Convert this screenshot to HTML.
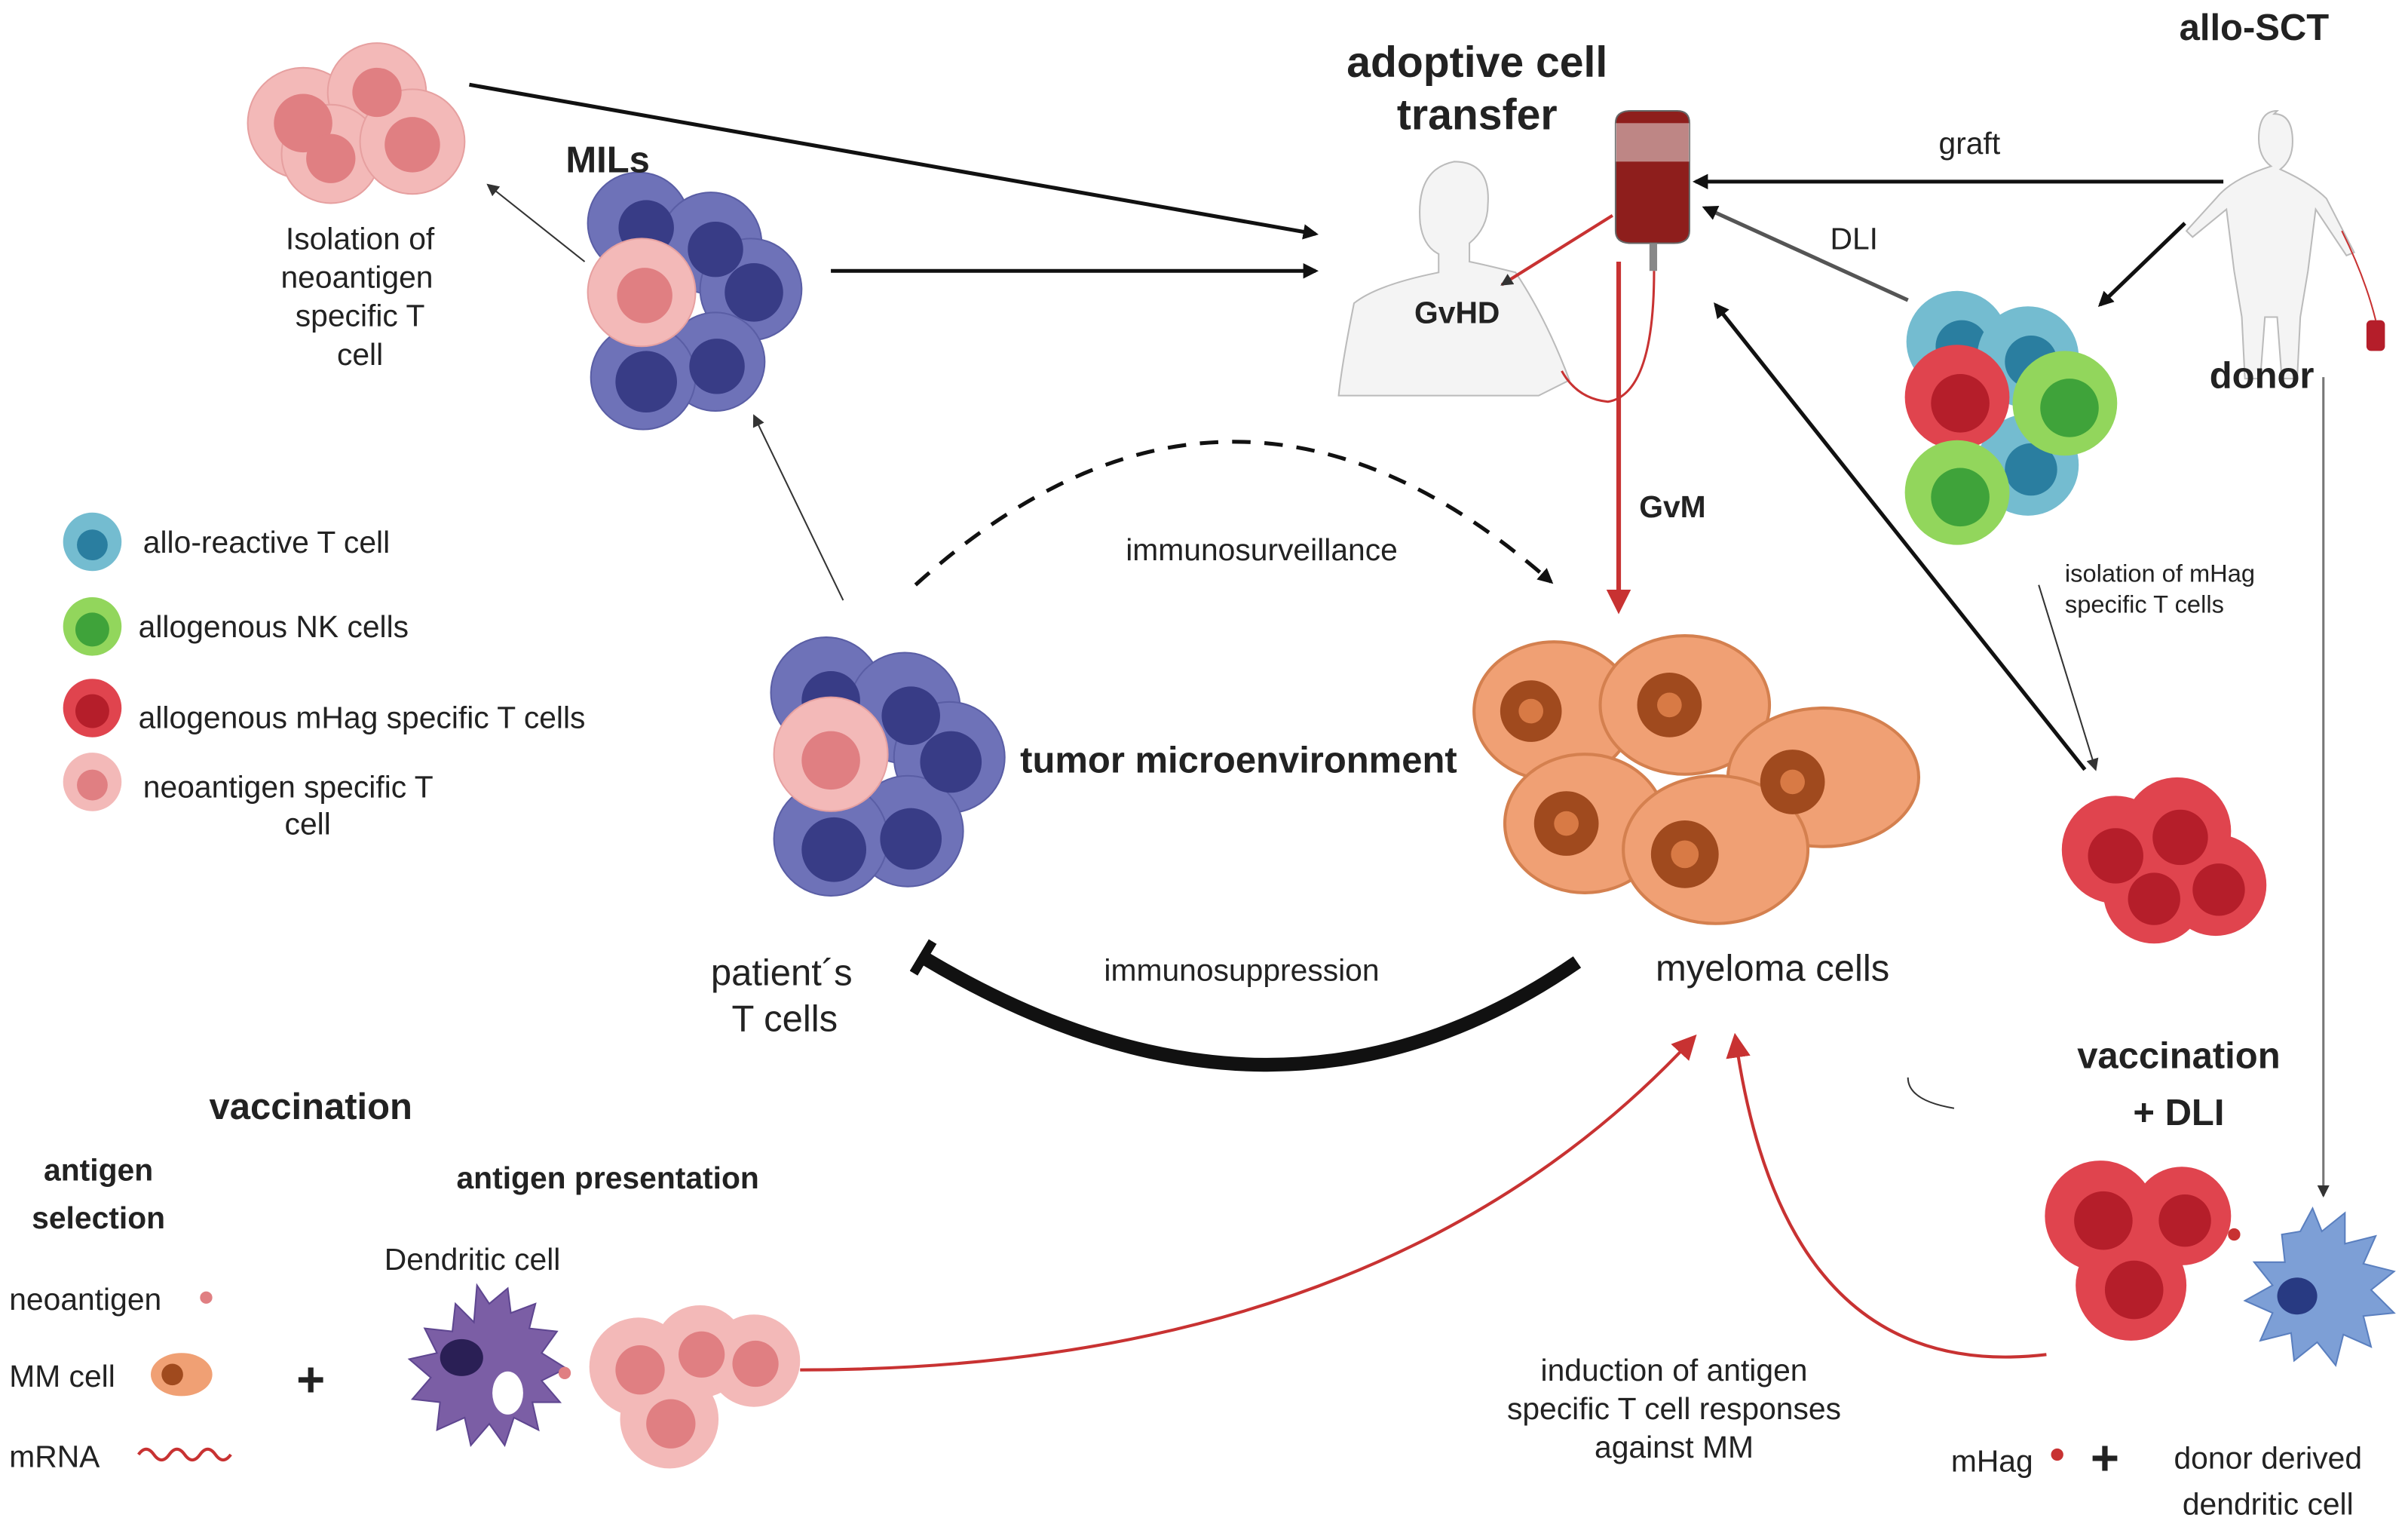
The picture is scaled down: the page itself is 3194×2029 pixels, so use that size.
<!DOCTYPE html>
<html><head><meta charset="utf-8"><style>html,body{margin:0;padding:0;background:#fff}svg{display:block}text{font-family:"Liberation Sans",sans-serif;fill:#222}</style></head>
<body>
<svg width="3194" height="2029" viewBox="0 0 1565 994" preserveAspectRatio="none" xmlns="http://www.w3.org/2000/svg">
<defs>
<marker id="ab" markerWidth="10" markerHeight="10" refX="8" refY="5" orient="auto" markerUnits="userSpaceOnUse"><path d="M0,0 L10,5 L0,10 z" fill="#111"/></marker>
<marker id="ar" markerWidth="16" markerHeight="16" refX="12" refY="8" orient="auto" markerUnits="userSpaceOnUse"><path d="M0,0 L16,8 L0,16 z" fill="#c83232"/></marker>
<marker id="as" markerWidth="8" markerHeight="8" refX="7" refY="4" orient="auto" markerUnits="userSpaceOnUse"><path d="M0,0 L8,4 L0,8 z" fill="#333"/></marker>
<marker id="bar" markerWidth="6" markerHeight="24" refX="3" refY="12" orient="auto" markerUnits="userSpaceOnUse"><rect x="0" y="0" width="6" height="24" fill="#111"/></marker>
</defs>
<g id="cells">
<!-- top-left pink -->
<g fill="#f3b9b8" stroke="#e6a0a0"><circle cx="197" cy="80" r="36"/><circle cx="245" cy="60" r="32"/><circle cx="215" cy="100" r="32"/><circle cx="268" cy="92" r="34"/></g>
<g fill="#e07f82"><circle cx="197" cy="80" r="19"/><circle cx="245" cy="60" r="16"/><circle cx="215" cy="103" r="16"/><circle cx="268" cy="94" r="18"/></g>
<!-- MILs -->
<g fill="#6e72b8" stroke="#5a5ea5"><circle cx="415" cy="145" r="33"/><circle cx="462" cy="158" r="33"/><circle cx="488" cy="188" r="33"/><circle cx="465" cy="235" r="32"/><circle cx="418" cy="245" r="34"/></g>
<g fill="#383c86"><circle cx="420" cy="148" r="18"/><circle cx="465" cy="162" r="18"/><circle cx="490" cy="190" r="19"/><circle cx="466" cy="238" r="18"/><circle cx="420" cy="248" r="20"/></g>
<circle cx="417" cy="190" r="35" fill="#f3b9b8" stroke="#e6a0a0"/><circle cx="419" cy="192" r="18" fill="#e07f82"/>
<!-- patient T cells -->
<g fill="#6e72b8" stroke="#5a5ea5"><circle cx="537" cy="450" r="36"/><circle cx="588" cy="460" r="36"/><circle cx="617" cy="492" r="36"/><circle cx="590" cy="540" r="36"/><circle cx="540" cy="545" r="37"/></g>
<g fill="#383c86"><circle cx="540" cy="455" r="19"/><circle cx="592" cy="465" r="19"/><circle cx="618" cy="495" r="20"/><circle cx="592" cy="545" r="20"/><circle cx="542" cy="552" r="21"/></g>
<circle cx="540" cy="490" r="37" fill="#f3b9b8" stroke="#e6a0a0"/><circle cx="540" cy="494" r="19" fill="#e07f82"/>
<!-- legend -->
<circle cx="60" cy="352" r="19" fill="#74bcd0"/><circle cx="60" cy="354" r="10" fill="#2a7ea0"/>
<circle cx="60" cy="407" r="19" fill="#92d65c"/><circle cx="60" cy="409" r="11" fill="#3fa33a"/>
<circle cx="60" cy="460" r="19" fill="#e0444e"/><circle cx="60" cy="462" r="11" fill="#b51e2a"/>
<circle cx="60" cy="508" r="19" fill="#f3b9b8"/><circle cx="60" cy="510" r="10" fill="#e07f82"/>
<!-- donor cluster -->
<g><circle cx="1272" cy="222" r="33" fill="#74bcd0"/><circle cx="1275" cy="225" r="17" fill="#2a7ea0"/>
<circle cx="1318" cy="232" r="33" fill="#74bcd0"/><circle cx="1320" cy="235" r="17" fill="#2a7ea0"/>
<circle cx="1318" cy="302" r="33" fill="#74bcd0"/><circle cx="1320" cy="305" r="17" fill="#2a7ea0"/>
<circle cx="1342" cy="262" r="34" fill="#92d65c"/><circle cx="1345" cy="265" r="19" fill="#3fa33a"/>
<circle cx="1272" cy="258" r="34" fill="#e0444e"/><circle cx="1274" cy="262" r="19" fill="#b51e2a"/>
<circle cx="1272" cy="320" r="34" fill="#92d65c"/><circle cx="1274" cy="323" r="19" fill="#3fa33a"/></g>
<!-- red cluster -->
<g fill="#e0444e"><circle cx="1375" cy="552" r="35"/><circle cx="1400" cy="580" r="33"/><circle cx="1415" cy="540" r="35"/><circle cx="1440" cy="575" r="33"/></g>
<g fill="#b51e2a"><circle cx="1375" cy="556" r="18"/><circle cx="1400" cy="584" r="17"/><circle cx="1417" cy="544" r="18"/><circle cx="1442" cy="578" r="17"/></g>
<!-- bottom right red -->
<g fill="#e0444e"><circle cx="1365" cy="790" r="36"/><circle cx="1418" cy="790" r="32"/><circle cx="1385" cy="835" r="36"/></g>
<g fill="#b51e2a"><circle cx="1367" cy="793" r="19"/><circle cx="1420" cy="793" r="17"/><circle cx="1387" cy="838" r="19"/></g>
<circle cx="1452" cy="802" r="4" fill="#c83232"/>
<!-- blue dendritic -->
<path d="M1495 800 l8 -15 l6 15 l15 -12 l0 20 l20 -5 l-8 18 l20 5 l-15 12 l15 15 l-20 2 l5 20 l-18 -8 l-5 20 l-12 -15 l-15 12 l-2 -18 l-20 5 l8 -18 l-18 -8 l18 -10 l-12 -15 l20 0 l-2 -18 z" fill="#7d9fd6" stroke="#5a7fbf"/>
<ellipse cx="1493" cy="842" rx="13" ry="12" fill="#283a82"/>
<!-- purple dendritic -->
<path d="M310 835 l8 12 l12 -10 l2 16 l16 -6 l-4 16 l18 2 l-10 14 l16 10 l-16 8 l12 14 l-18 0 l4 18 l-16 -8 l-6 18 l-10 -14 l-12 14 l-4 -18 l-18 8 l2 -18 l-18 -2 l12 -14 l-14 -12 l18 -4 l-8 -16 l18 2 l2 -18 l12 12 z" fill="#7b5ea5" stroke="#5e4690"/>
<ellipse cx="300" cy="882" rx="14" ry="12" fill="#2a1f55"/><ellipse cx="330" cy="905" rx="10" ry="14" fill="#fff"/>
<circle cx="367" cy="892" r="4" fill="#e07f82"/>
<!-- pink bottom -->
<g fill="#f3b9b8"><circle cx="415" cy="888" r="32"/><circle cx="455" cy="878" r="30"/><circle cx="490" cy="884" r="30"/><circle cx="435" cy="922" r="32"/></g>
<g fill="#e07f82"><circle cx="416" cy="890" r="16"/><circle cx="456" cy="880" r="15"/><circle cx="491" cy="886" r="15"/><circle cx="436" cy="925" r="16"/></g>
<!-- myeloma -->
<g fill="#f0a074" stroke="#d4804f" stroke-width="2">
<ellipse cx="1010" cy="462" rx="52" ry="45"/><ellipse cx="1095" cy="458" rx="55" ry="45"/><ellipse cx="1185" cy="505" rx="62" ry="45"/><ellipse cx="1030" cy="535" rx="52" ry="45"/><ellipse cx="1115" cy="552" rx="60" ry="48"/></g>
<g fill="#a04a1e"><circle cx="995" cy="462" r="20"/><circle cx="1085" cy="458" r="21"/><circle cx="1165" cy="508" r="21"/><circle cx="1018" cy="535" r="21"/><circle cx="1095" cy="555" r="22"/></g>
<g fill="#d87a45"><circle cx="995" cy="462" r="8"/><circle cx="1085" cy="458" r="8"/><circle cx="1165" cy="508" r="8"/><circle cx="1018" cy="535" r="8"/><circle cx="1095" cy="555" r="9"/></g>
<!-- legend MM cell -->
<ellipse cx="118" cy="893" rx="20" ry="14" fill="#f0a074"/><circle cx="112" cy="893" r="7" fill="#a04a1e"/>
<path d="M90 945 q5 -7 10 0 t10 0 t10 0 t10 0 t10 0 t10 0" stroke="#c83232" fill="none" stroke-width="2"/>
<circle cx="134" cy="843" r="4" fill="#e07f82"/>
<circle cx="1337" cy="945" r="4" fill="#c83232"/>
</g>
<!-- humans -->
<path d="M945 105 q-25 5 -22 40 q2 15 12 20 l0 12 q-40 8 -55 20 q-8 40 -10 60 l130 0 l20 -10 q-15 -40 -35 -70 q-20 -5 -30 -7 l0 -12 q12 -10 12 -25 q2 -28 -22 -28 z" fill="#f4f4f4" stroke="#bbb"/>
<path d="M1480 72 q-12 0 -12 18 q0 12 8 18 q-25 8 -35 20 l-20 22 l4 4 l22 -18 l5 40 l5 30 l2 40 l10 0 l3 -40 l8 0 l3 40 l10 0 l2 -40 l5 -30 l5 -40 l20 30 l5 -2 l-18 -35 q-10 -10 -30 -19 q8 -6 8 -18 q0 -18 -12 -18z" fill="#f4f4f4" stroke="#bbb"/>
<rect x="1538" y="208" width="12" height="20" rx="3" fill="#b51e2a"/>
<path d="M1522 150 q15 30 22 58" stroke="#c83232" fill="none"/>
<!-- blood bag -->
<path d="M1050 80 q0 -8 10 -8 l30 0 q8 0 8 8 l0 70 q0 8 -10 8 l-28 0 q-10 0 -10 -8 z" fill="#8e1e1c" stroke="#666"/>
<rect x="1050" y="80" width="48" height="25" fill="#eee" opacity="0.5"/>
<rect x="1072" y="158" width="5" height="18" fill="#888"/>
<path d="M1075 176 q0 80 -30 85 q-20 -2 -30 -20" stroke="#c83232" fill="none" stroke-width="1.5"/>
<!-- arrows -->
<g stroke="#111" fill="none" stroke-width="2.5">
<line x1="305" y1="55" x2="855" y2="152" marker-end="url(#ab)"/>
<line x1="540" y1="176" x2="855" y2="176" marker-end="url(#ab)"/>
<line x1="1445" y1="118" x2="1102" y2="118" marker-end="url(#ab)"/>
<line x1="1240" y1="195" x2="1108" y2="135" marker-end="url(#ab)" stroke="#555"/>
<line x1="1420" y1="145" x2="1365" y2="198" marker-end="url(#ab)"/>
<line x1="1355" y1="500" x2="1115" y2="198" marker-end="url(#ab)"/>
<path d="M595 380 Q800 195 1008 378" stroke-dasharray="12 9" marker-end="url(#ab)"/>
<path d="M1025 625 Q830 760 600 622" stroke-width="9" marker-end="url(#bar)"/>
</g>
<g stroke="#333" fill="none" stroke-width="1">
<line x1="380" y1="170" x2="317" y2="120" marker-end="url(#as)"/>
<line x1="548" y1="390" x2="490" y2="270" marker-end="url(#as)"/>
<line x1="1325" y1="380" x2="1362" y2="500" marker-end="url(#as)"/>
<path d="M1240 700 q0 15 30 20"/>
</g>
<line x1="1510" y1="245" x2="1510" y2="777" stroke="#777" stroke-width="1.5" marker-end="url(#as)"/>
<g stroke="#c83232" fill="none" stroke-width="2">
<line x1="1052" y1="170" x2="1052" y2="395" stroke-width="3" marker-end="url(#ar)"/>
<line x1="1048" y1="140" x2="976" y2="185" marker-end="url(#as)"/>
<path d="M520 890 Q900 890 1100 675" marker-end="url(#ar)"/>
<path d="M1330 880 Q1160 900 1128 675" marker-end="url(#ar)"/>
</g>
<!-- text -->
<g font-size="20">
<text x="960" y="50" font-size="28" font-weight="bold" text-anchor="middle">adoptive cell</text>
<text x="960" y="84" font-size="28" font-weight="bold" text-anchor="middle">transfer</text>
<text x="1465" y="26" font-size="24" font-weight="bold" text-anchor="middle">allo-SCT</text>
<text x="1470" y="252" font-size="24" font-weight="bold" text-anchor="middle">donor</text>
<text x="395" y="112" font-size="24" font-weight="bold" text-anchor="middle">MILs</text>
<text x="1280" y="100" text-anchor="middle">graft</text>
<text x="1205" y="162" text-anchor="middle">DLI</text>
<text x="947" y="210" font-weight="bold" text-anchor="middle">GvHD</text>
<text x="1087" y="336" font-weight="bold" text-anchor="middle">GvM</text>
<g text-anchor="middle"><text x="234" y="162">Isolation of</text><text x="232" y="187">neoantigen</text><text x="234" y="212">specific  T</text><text x="234" y="237">cell</text></g>
<text x="93" y="359">allo-reactive T cell</text>
<text x="90" y="414">allogenous NK cells</text>
<text x="90" y="473">allogenous mHag specific T cells</text>
<text x="93" y="518">neoantigen  specific  T</text>
<text x="200" y="542" text-anchor="middle">cell</text>
<text x="820" y="364" text-anchor="middle">immunosurveillance</text>
<text x="805" y="502" font-size="24" font-weight="bold" text-anchor="middle">tumor microenvironment</text>
<text x="1342" y="378" font-size="16">isolation of mHag</text>
<text x="1342" y="398" font-size="16">specific T cells</text>
<text x="508" y="640" font-size="24" text-anchor="middle">patient´s</text>
<text x="510" y="670" font-size="24" text-anchor="middle">T cells</text>
<text x="807" y="637" text-anchor="middle">immunosuppression</text>
<text x="1152" y="637" font-size="24" text-anchor="middle">myeloma cells</text>
<text x="1416" y="694" font-size="24" font-weight="bold" text-anchor="middle">vaccination</text>
<text x="1416" y="731" font-size="24" font-weight="bold" text-anchor="middle">+ DLI</text>
<text x="202" y="727" font-size="24" font-weight="bold" text-anchor="middle">vaccination</text>
<text x="64" y="767" font-weight="bold" text-anchor="middle">antigen</text>
<text x="64" y="798" font-weight="bold" text-anchor="middle">selection</text>
<text x="395" y="772" font-weight="bold" text-anchor="middle">antigen presentation</text>
<text x="307" y="825" text-anchor="middle">Dendritic cell</text>
<text x="6" y="851">neoantigen</text>
<text x="6" y="901">MM cell</text>
<text x="6" y="953">mRNA</text>
<text x="202" y="907" font-size="32" font-weight="bold" text-anchor="middle">+</text>
<g text-anchor="middle"><text x="1088" y="897">induction of antigen</text><text x="1088" y="922">specific T cell responses</text><text x="1088" y="947">against MM</text></g>
<text x="1268" y="956">mHag</text>
<text x="1368" y="958" font-size="32" font-weight="bold" text-anchor="middle">+</text>
<text x="1474" y="954" text-anchor="middle">donor derived</text>
<text x="1474" y="984" text-anchor="middle">dendritic cell</text>
</g>
</svg>
</body></html>
